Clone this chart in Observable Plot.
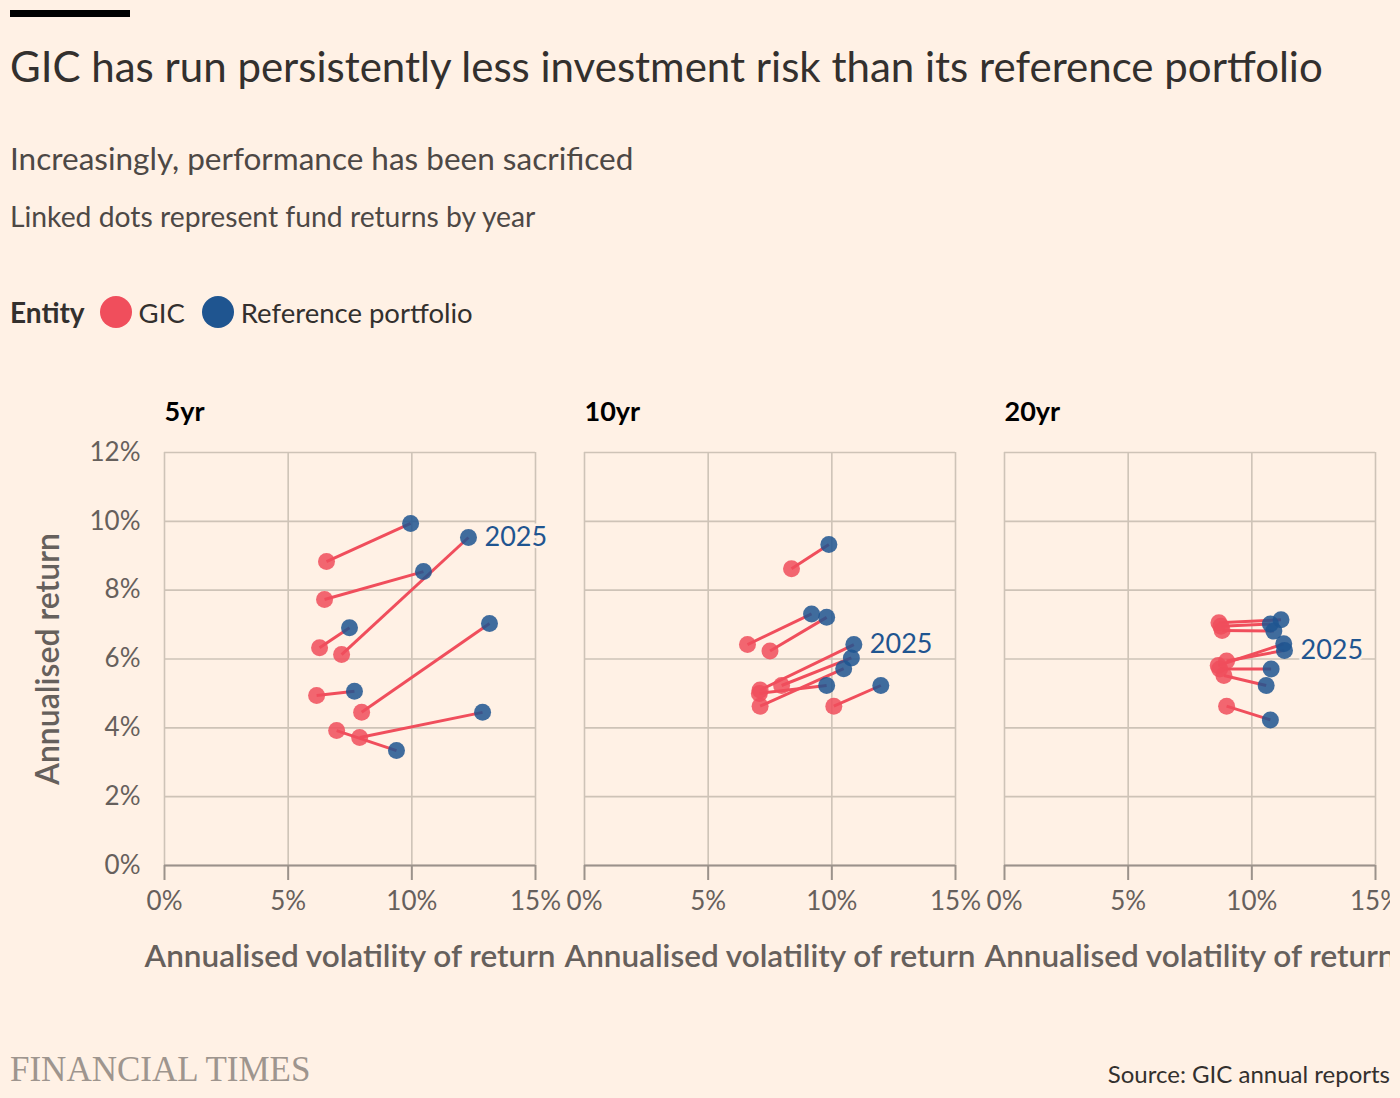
<!DOCTYPE html>
<html>
<head>
<meta charset="utf-8">
<script src="https://cdn.jsdelivr.net/npm/d3@7"></script>
<script src="https://cdn.jsdelivr.net/npm/@observablehq/plot@0.6"></script>
<style>
  html, body { margin: 0; padding: 0; }
  body { background: #fff1e5; width: 1400px; height: 1098px; position: relative; overflow: hidden; font-family: Lato, "Noto Sans", sans-serif; color: #33302e; }
  .abs { position: absolute; white-space: nowrap; }
  #bar { left: 10px; top: 10px; width: 120px; height: 7px; background: #000; }
  #title { left: 10px; top: 44px; font-size: 42px; line-height: 44px; color: #33302e; }
  #subtitle { left: 10px; top: 140px; font-size: 31.5px; line-height: 36px; color: #4d4845; }
  #desc { left: 10px; top: 199px; font-size: 28.3px; line-height: 34px; color: #4d4845; }
  #legend { left: 10px; top: 295px; height: 34px; display: flex; align-items: center; font-size: 27.5px; color: #33302e; }
  #legend b { font-weight: 700; font-size: 28px; margin-right: 15px; }
  #legend .sw { width: 32px; height: 32px; border-radius: 50%; display: inline-block; margin-right: 7px; }
  #legend .it { display: flex; align-items: center; margin-right: 17px; }
  #chart { left: 10px; top: 370px; width: 1380px; height: 640px; overflow: hidden; }
  #chart svg { max-width: none !important; }
  #ft { left: 10px; top: 1051px; font-family: "Liberation Serif", "DejaVu Serif", serif; font-size: 35px; line-height: 38px; color: #9e958e; }
  #source { right: 10px; top: 1059px; font-size: 24px; line-height: 30px; color: #33302e; }
</style>
</head>
<body>
<div id="bar" class="abs"></div>
<div id="title" class="abs">GIC has run persistently less investment risk than its reference portfolio</div>
<div id="subtitle" class="abs">Increasingly, performance has been sacrificed</div>
<div id="desc" class="abs">Linked dots represent fund returns by year</div>
<div id="legend" class="abs"></div>
<div id="chart" class="abs"></div>
<div id="ft" class="abs">FINANCIAL TIMES</div>
<div id="source" class="abs">Source: GIC annual reports</div>
<script>
// ---- data ----
const periods = ["5yr", "10yr", "20yr"];
const entities = ["GIC", "Reference portfolio"];
const entityColors = ["#f04e5c", "#1f5590"];
const years = [2018, 2019, 2020, 2021, 2022, 2023, 2024, 2025];
const xTicks = [0, 5, 10, 15];
const yTicks = [0, 2, 4, 6, 8, 10, 12];

// 5yr: GIC volatility / return, reference volatility / return (%)
const gicVol5 = [6.55, 6.47, 6.27, 6.15, 7.97, 6.96, 7.89, 7.16];
const gicRet5 = [8.83, 7.73, 6.33, 4.94, 4.45, 3.92, 3.72, 6.13];
const refVol5 = [9.95, 10.47, 7.48, 7.68, 13.14, 9.38, 12.86, 12.29];
const refRet5 = [9.94, 8.54, 6.91, 5.06, 7.03, 3.34, 4.45, 9.53];

// 10yr
const gicVol10 = [8.37, 6.59, 7.50, 7.07, 7.10, 7.97, 10.08, 7.10];
const gicRet10 = [8.62, 6.42, 6.23, 5.00, 4.63, 5.23, 4.63, 5.10];
const refVol10 = [9.88, 9.18, 9.79, 9.79, 10.48, 10.79, 11.98, 10.89];
const refRet10 = [9.33, 7.31, 7.21, 5.23, 5.72, 6.03, 5.23, 6.42];

// 20yr
const gicVol20 = [8.67, 8.75, 8.80, 8.64, 8.70, 8.87, 8.98, 8.98];
const gicRet20 = [7.05, 6.95, 6.83, 5.81, 5.71, 5.52, 4.63, 5.94];
const refVol20 = [11.18, 10.75, 10.89, 11.29, 10.78, 10.58, 10.75, 11.32];
const refRet20 = [7.14, 7.02, 6.81, 6.44, 5.71, 5.23, 4.23, 6.25];

const labelYear = 2025;

// ---- build tables ----
const series = {
  "5yr": [gicVol5, gicRet5, refVol5, refRet5],
  "10yr": [gicVol10, gicRet10, refVol10, refRet10],
  "20yr": [gicVol20, gicRet20, refVol20, refRet20]
};
const pairs = [];
for (const p of periods) {
  const [gv, gr, rv, rr] = series[p];
  years.forEach((yr, i) => pairs.push({period: p, year: yr, gx: gv[i], gy: gr[i], rx: rv[i], ry: rr[i]}));
}
const points = [];
for (const d of pairs) {
  points.push({period: d.period, year: d.year, entity: entities[0], x: d.gx, y: d.gy});
  points.push({period: d.period, year: d.year, entity: entities[1], x: d.rx, y: d.ry});
}

// ---- legend ----
const leg = document.getElementById("legend");
leg.innerHTML = "<b>Entity</b>" + entities.map((e, i) =>
  `<span class="it"><span class="sw" style="background:${entityColors[i]}"></span>${e}</span>`).join("");

// ---- chart ----
const axisGrey = "#66605c";
const gridColor = "#cec3b7";
const chart = Plot.plot({
  width: 1420,
  height: 640,
  marginLeft: 154,
  marginRight: 55,
  marginTop: 82,
  marginBottom: 145,
  style: {background: "transparent", fontFamily: "Lato, 'Noto Sans', sans-serif", fontSize: "26px", color: axisGrey, overflow: "visible", maxWidth: "none"},
  fx: {domain: periods, paddingInner: 49 / 420, paddingOuter: 0, axis: null, label: null},
  x: {domain: [0, 15]},
  y: {domain: [0, 12]},
  color: {domain: entities, range: entityColors},
  marks: [
    Plot.gridX({ticks: xTicks, stroke: gridColor, strokeOpacity: 1, strokeWidth: 1.6}),
    Plot.gridY({ticks: yTicks, stroke: gridColor, strokeOpacity: 1, strokeWidth: 1.6}),
    Plot.ruleY([0], {stroke: "#9b928b", strokeWidth: 2}),
    Plot.axisX({ticks: xTicks, tickFormat: d => d + "%", tickSize: 15, tickPadding: 11, stroke: "#9b928b", strokeWidth: 2, fill: axisGrey, label: null, fontSize: 26}),
    Plot.axisY({ticks: yTicks, tickFormat: d => d + "%", tickSize: 0, tickPadding: 24, fill: axisGrey, label: null, fontSize: 26, facetAnchor: "left"}),
    Plot.text(periods, {fx: d => d, text: d => d, frameAnchor: "top-left", dy: -32, lineAnchor: "bottom", fontWeight: 700, fill: "#000", fontSize: 27}),
    Plot.text(periods, {fx: d => d, text: () => "Annualised volatility of return", frameAnchor: "bottom", dy: 101, fontWeight: 600, fill: axisGrey, fontSize: 31.5}),
    Plot.text(["Annualised return"], {fx: () => "5yr", text: d => d, frameAnchor: "left", textAnchor: "middle", rotate: -90, dx: -116, fontWeight: 600, fill: axisGrey, fontSize: 32}),
    Plot.link(pairs, {fx: "period", x1: "gx", y1: "gy", x2: "rx", y2: "ry", stroke: entityColors[0], strokeWidth: 3}),
    Plot.dot(points, {fx: "period", x: "x", y: "y", fill: "entity", r: 8.5, fillOpacity: 0.85}),
    Plot.text(pairs.filter(d => d.year === labelYear), {fx: "period", x: "rx", y: "ry", text: d => String(d.year), dx: 16, textAnchor: "start", fill: entityColors[1], stroke: "#fff1e5", strokeWidth: 5, fontSize: 27})
  ]
});
document.getElementById("chart").appendChild(chart);
</script>
</body>
</html>
